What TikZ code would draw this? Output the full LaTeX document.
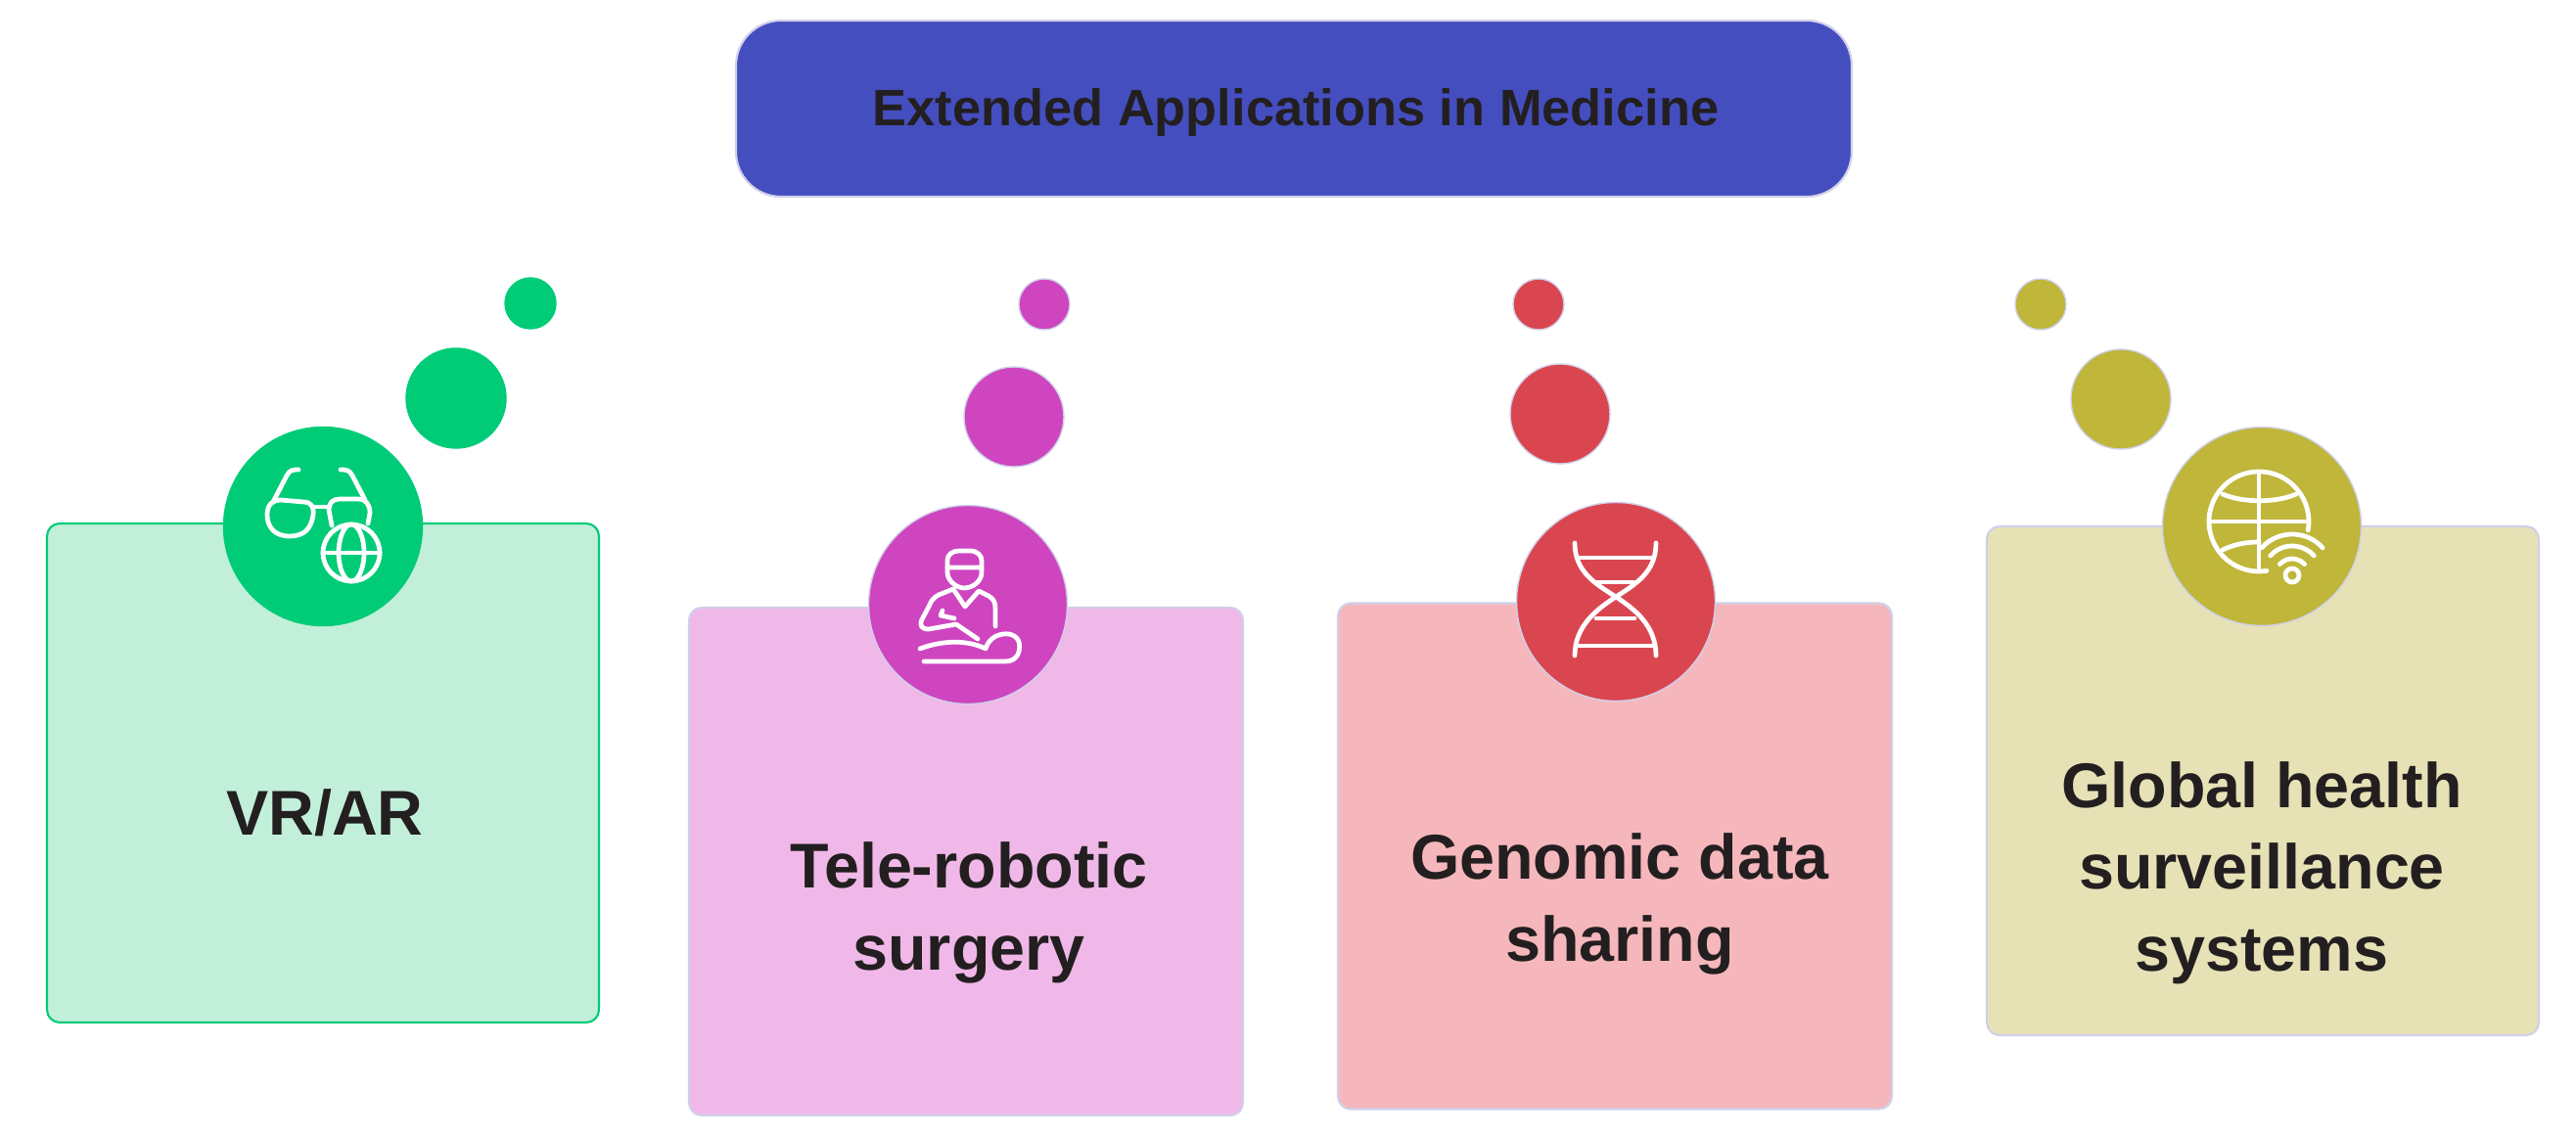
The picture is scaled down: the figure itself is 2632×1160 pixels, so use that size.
\documentclass[tikz,border=0pt]{standalone}
\usepackage{fontspec}
\setmainfont{Liberation Sans}
\definecolor{inkc}{HTML}{231F20}
\definecolor{edgec}{HTML}{D0D0EA}
\definecolor{titlec}{HTML}{444EBF}
\definecolor{vrc}{HTML}{00CC78}
\definecolor{vrl}{HTML}{C2EFD9}
\definecolor{surgc}{HTML}{CE45BF}
\definecolor{surgl}{HTML}{F0B8E8}
\definecolor{genc}{HTML}{DA4650}
\definecolor{genl}{HTML}{F5B7BC}
\definecolor{globc}{HTML}{BFB63A}
\definecolor{globl}{HTML}{E6E2B6}
\tikzset{
  card/.style={draw=edgec,line width=0.6pt,rounded corners=1.3mm,inner sep=0pt,outer sep=0pt},
  dot/.style={circle,draw=edgec,line width=0.4pt,inner sep=0pt,outer sep=0pt},
  bigdot/.style={dot,minimum size=20.3mm},
  middot/.style={dot,minimum size=10.2mm},
  smalldot/.style={dot,minimum size=5.2mm},
  label/.style={text=inkc,align=center,font=\fontsize{18.4}{23.7}\selectfont\bfseries},
  icon/.style={draw=white,line width=1.35pt,line cap=round,line join=round}
}
\begin{document}
\begin{tikzpicture}[x=0.1mm,y=-0.1mm]
\useasboundingbox (0,0) rectangle (2632,1160);
\node (title) [card,fill=titlec,rounded corners=4.6mm,minimum width=114mm,minimum height=18mm] at (1322,111) {};
\node (titlelabel) [text=inkc,font=\fontsize{14.9}{18}\selectfont\bfseries] at (1324,115) {Extended Applications in Medicine};
% cards
\node (vrcard)   [card,fill=vrl,draw=vrc,minimum width=56.4mm,minimum height=51mm] at (330,790) {};
\node (surgcard) [card,fill=surgl,minimum width=56.6mm,minimum height=51.9mm] at (987,880.5) {};
\node (gencard)  [card,fill=genl,minimum width=56.6mm,minimum height=51.7mm] at (1650,875) {};
\node (globcard) [card,fill=globl,minimum width=56.4mm,minimum height=52mm] at (2312,798) {};
\node (vrlabel)   [label] at (332,831) {VR/AR};
\node (surglabel) [label] at (990,933) {Tele-robotic\\surgery};
\node (genlabel)  [label] at (1655,924) {Genomic data\\sharing};
\node (globlabel) [label] at (2311,892) {Global health\\surveillance\\systems};
% circles
\node (vrbig)   [bigdot,fill=vrc,draw=vrc] at (330,538) {};
\node (vrmid)   [middot,fill=vrc,draw=vrc] at (466,407) {};
\node (vrsmall) [smalldot,fill=vrc,draw=vrc] at (542,310) {};
\node (surgbig)   [bigdot,fill=surgc] at (989,618) {};
\node (surgmid)   [middot,fill=surgc] at (1036,426) {};
\node (surgsmall) [smalldot,fill=surgc] at (1067,311) {};
\node (genbig)   [bigdot,fill=genc] at (1651,615) {};
\node (genmid)   [middot,fill=genc] at (1594,423) {};
\node (gensmall) [smalldot,fill=genc] at (1572,311) {};
\node (globbig)   [bigdot,fill=globc] at (2311,538) {};
\node (globmid)   [middot,fill=globc] at (2167,408) {};
\node (globsmall) [smalldot,fill=globc] at (2085,311) {};
% glasses and globe
\begin{scope}[shift={(vrbig)}]
\draw[icon] (-57,-12) .. controls (-57,-23) and (-51,-27) .. (-43,-27) -- (-20,-25) .. controls (-12,-25) and (-9,-20) .. (-10,-12)
  .. controls (-12,3) and (-20,10) .. (-34,10) .. controls (-50,10) and (-57,0) .. (-57,-12);
\draw[icon] (-10,-20) -- (6,-20);
\draw[icon] (9,-1) -- (6,-17) .. controls (6,-24) and (10,-28) .. (17,-28) -- (36,-28) .. controls (44,-28) and (48,-22) .. (48,-14) -- (46,-3);
\draw[icon] (-51,-25) -- (-37,-52) .. controls (-34,-58) and (-30,-58) .. (-25,-58);
\draw[icon] (43,-27) -- (30,-52) .. controls (27,-58) and (23,-58) .. (18,-58);
\draw[icon] (29,27) circle [radius=29];
\draw[icon] (29,27) ellipse [x radius=13,y radius=29];
\draw[icon] (0,27) -- (58,27);
\end{scope}
% surgeon and patient
\begin{scope}[shift={(surgbig)}]
\draw[icon] (-21,-38) -- (-21,-45) .. controls (-21,-52) and (-15,-55) .. (-9,-55) -- (2,-55) .. controls (10,-55) and (14,-50) .. (14,-45) -- (14,-38) -- cycle;
\draw[icon] (-21,-38) -- (-21,-33) .. controls (-21,-24) and (-11,-17) .. (-4,-17) .. controls (5,-17) and (14,-24) .. (14,-33) -- (14,-38);
\draw[icon] (-15,-16) -- (-30,-10) .. controls (-36,-7) and (-38,-3) .. (-40,2) -- (-47,15) .. controls (-50,22) and (-47,25) .. (-40,25) -- (-12,20) -- (10,35);
\draw[icon] (-26,6) -- (-28,11) -- (-14,14);
\draw[icon] (-15,-16) -- (-3,2) -- (11,-14) -- (21,-9) .. controls (26,-6) and (28,-3) .. (28,4) -- (28,22);
\draw[icon] (-49,45) .. controls (-25,36) and (0,36) .. (18,45) .. controls (22,32) and (34,29) .. (42,30) .. controls (52,32) and (54,40) .. (52,48) .. controls (50,55) and (45,58) .. (38,58) -- (-45,58);
\end{scope}
% dna
\begin{scope}[shift={(genbig)}]
\draw[icon] (-42,-60) .. controls (-42,-30) and (-20,-18) .. (0,-5) .. controls (20,8) and (41,25) .. (41,55);
\draw[icon] (41,-60) .. controls (41,-30) and (20,-18) .. (0,-5) .. controls (-20,8) and (-42,25) .. (-42,55);
\draw[icon] (-39,-45) -- (38,-45);
\draw[icon] (-19,-20) -- (18,-20);
\draw[icon] (-20,17) -- (19,17);
\draw[icon] (-40,45) -- (39,45);
\end{scope}
% globe and wifi
\begin{scope}[shift={(globbig)}]
\coordinate (globc0) at (-3,-5);
\coordinate (wific0) at (31,50);
\draw[icon] (globc0) ++(81:51) arc [start angle=81,end angle=370,radius=51];
\draw[icon] (-53,-5) -- (47,-5);
\draw[icon] (-3,-55) -- (-3,45);
\draw[icon] (-40,-33) .. controls (-20,-24) and (15,-24) .. (35,-33);
\draw[icon] (-40,24) .. controls (-28,18) and (-15,16) .. (-3,16);
\draw[icon] (wific0) circle [radius=7];
\draw[icon] (wific0) ++(222:17) arc [start angle=222,end angle=318,radius=17];
\draw[icon] (wific0) ++(222:30) arc [start angle=222,end angle=318,radius=30];
\draw[icon] (wific0) ++(222:42) arc [start angle=222,end angle=318,radius=42];
\end{scope}
\end{tikzpicture}
\end{document}
